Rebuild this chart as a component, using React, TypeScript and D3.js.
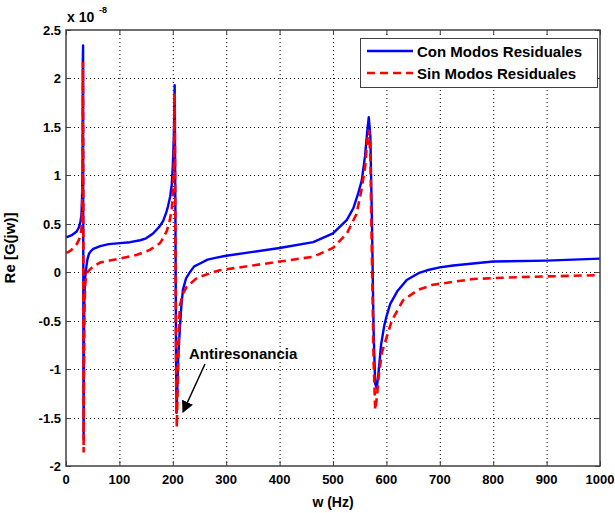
import React from "react";
import * as d3 from "d3";

const conFreq = [0,5,10,15,20,24,27,29,30,31,31.5,32,32.6,33,33.6,34.5,36,38,40,43,47,51,64,80,101,120,139,150,163,175,182,188,191,195,198,200,202,203.5,205,206,207,208,210,213,216,219,225,232,240,251,265,282,300,350,400,463,500,526,538,547,554,560,564,567,570,573,576,579,582,585,590,596,600,607,620,638,660,676,700,725,800,900,1000];
const conRe = [0.36,0.37,0.38,0.40,0.42,0.46,0.52,0.6,0.75,1.1,2.18,2.34,-1.0,-1.72,-0.7,-0.25,-0.05,0.05,0.13,0.19,0.22,0.24,0.27,0.29,0.30,0.31,0.33,0.35,0.40,0.47,0.53,0.62,0.68,0.78,0.9,1.1,1.4,1.93,0.5,-0.8,-1.45,-1.3,-0.9,-0.6,-0.35,-0.18,-0.06,0.0,0.06,0.09,0.13,0.15,0.17,0.21,0.25,0.31,0.40,0.54,0.66,0.81,0.95,1.2,1.45,1.6,1.4,0.5,-0.6,-1.15,-1.2,-1.05,-0.75,-0.55,-0.46,-0.33,-0.2,-0.08,-0.01,0.02,0.05,0.07,0.11,0.12,0.14];

const sinFreq = [0,5,10,15,20,24,27,29,30,31,31.8,32.4,33,33.6,34.5,36,38,40,45,51,64,82,101,133,157,176,183,189,194,198,200,202,203.5,205,206.5,207.5,209,211,213,219,226,245,270,288,350,400,463,500,526,544,553,560,564,567,570,573,576,579,582,586,592,600,610,631,660,687,762,850,1000];
const sinRe = [0.20,0.21,0.23,0.26,0.29,0.33,0.38,0.45,0.6,1.0,2.17,0.5,-1.86,-1.0,-0.4,-0.12,-0.03,0.0,0.03,0.06,0.10,0.12,0.14,0.18,0.23,0.30,0.36,0.43,0.53,0.64,0.8,1.1,1.85,0.2,-1.3,-1.6,-1.2,-0.7,-0.35,-0.22,-0.15,-0.06,-0.01,0.02,0.07,0.11,0.16,0.25,0.40,0.6,0.84,1.08,1.35,1.47,1.2,0.1,-0.9,-1.42,-1.3,-1.05,-0.82,-0.68,-0.5,-0.29,-0.18,-0.13,-0.07,-0.05,-0.03];

const xTicks = [0,100,200,300,400,500,600,700,800,900,1000];
const yTicks = [-2,-1.5,-1,-0.5,0,0.5,1,1.5,2,2.5];
const seriesNames = ["Con Modos Residuales", "Sin Modos Residuales"];

const W = 615, H = 513;
const L = 66, R = 600, T = 30, B = 466;
const FONT = "Arial, 'Liberation Sans', sans-serif";

export default function App() {
  const x = d3.scaleLinear().domain([0, 1000]).range([L, R]);
  const y = d3.scaleLinear().domain([-2, 2.5]).range([B, T]);
  const line = d3.line<[number, number]>().x(d => x(d[0])).y(d => y(d[1]));
  const conPts = conFreq.map((f, i) => [f, conRe[i]] as [number, number]);
  const sinPts = sinFreq.map((f, i) => [f, sinRe[i]] as [number, number]);
  const fmt = (v: number) => String(v);
  const axisColor = "#404040";

  return (
    <svg width={W} height={H} style={{ position: "absolute", left: 0, top: 0, background: "#fff" }} fontFamily={FONT}>
      <rect x={0} y={0} width={W} height={H} fill="#fff" />
      <g stroke="#000" strokeWidth={1} strokeDasharray="1,3">
        {xTicks.slice(1, -1).map(t => (
          <line key={"gx" + t} x1={x(t) + 0.5} x2={x(t) + 0.5} y1={T} y2={B} />
        ))}
        {yTicks.slice(1, -1).map(t => (
          <line key={"gy" + t} x1={L} x2={R} y1={Math.round(y(t)) + 0.5} y2={Math.round(y(t)) + 0.5} />
        ))}
      </g>
      <defs>
        <clipPath id="plotclip">
          <rect x={L} y={T} width={R - L} height={B - T} />
        </clipPath>
      </defs>
      <g clipPath="url(#plotclip)" fill="none">
        <path d={line(conPts) || ""} stroke="#0000ff" strokeWidth={2.4} strokeLinejoin="round" />
        <path d={line(sinPts) || ""} stroke="#ff0000" strokeWidth={2.6} strokeDasharray="8,5" />
      </g>
      <rect x={L} y={T} width={R - L} height={B - T} fill="none" stroke={axisColor} strokeWidth={1.5} />
      <g stroke={axisColor} strokeWidth={1}>
        {xTicks.map(t => (
          <g key={"tx" + t}>
            <line x1={x(t) + 0.5} x2={x(t) + 0.5} y1={B} y2={B - 5} />
            <line x1={x(t) + 0.5} x2={x(t) + 0.5} y1={T} y2={T + 5} />
          </g>
        ))}
        {yTicks.map(t => (
          <g key={"ty" + t}>
            <line x1={L} x2={L + 5} y1={Math.round(y(t)) + 0.5} y2={Math.round(y(t)) + 0.5} />
            <line x1={R} x2={R - 5} y1={Math.round(y(t)) + 0.5} y2={Math.round(y(t)) + 0.5} />
          </g>
        ))}
      </g>
      <g fontSize={13} fontWeight="bold" fill="#000">
        {xTicks.map(t => (
          <text key={"lx" + t} x={x(t)} y={B + 18} textAnchor="middle">{fmt(t)}</text>
        ))}
        {yTicks.map(t => (
          <text key={"ly" + t} x={L - 5} y={y(t) + 5} textAnchor="end">{fmt(t)}</text>
        ))}
      </g>
      <text x={L + 1} y={22} fontSize={14} fontWeight="bold">x 10</text>
      <text x={L + 33} y={13} fontSize={9} fontWeight="bold">-8</text>
      <text x={(L + R) / 2} y={507} fontSize={14} fontWeight="bold" textAnchor="middle">w (Hz)</text>
      <text transform={`translate(15,${(T + B) / 2}) rotate(-90)`} fontSize={15} fontWeight="bold" textAnchor="middle">Re [G(jw)]</text>
      <text x={189} y={359} fontSize={15} fontWeight="bold">Antiresonancia</text>
      <defs>
        <marker id="arr" viewBox="0 0 10 10" refX={9} refY={5} markerWidth={8} markerHeight={8} orient="auto">
          <path d="M0,0 L10,5 L0,10 z" fill="#000" />
        </marker>
      </defs>
      <line x1={205} y1={364} x2={183} y2={412} stroke="#000" strokeWidth={1.5} markerEnd="url(#arr)" />
      <g>
        <rect x={360.5} y={38.5} width={237} height={49} fill="#fff" stroke={axisColor} strokeWidth={1} />
        <line x1={367} x2={413} y1={51} y2={51} stroke="#0000ff" strokeWidth={2.4} />
        <line x1={367} x2={413} y1={73} y2={73} stroke="#ff0000" strokeWidth={2.6} strokeDasharray="8,5" />
        <text x={417} y={57} fontSize={15} fontWeight="bold">{seriesNames[0]}</text>
        <text x={417} y={79} fontSize={15} fontWeight="bold">{seriesNames[1]}</text>
      </g>
    </svg>
  );
}
